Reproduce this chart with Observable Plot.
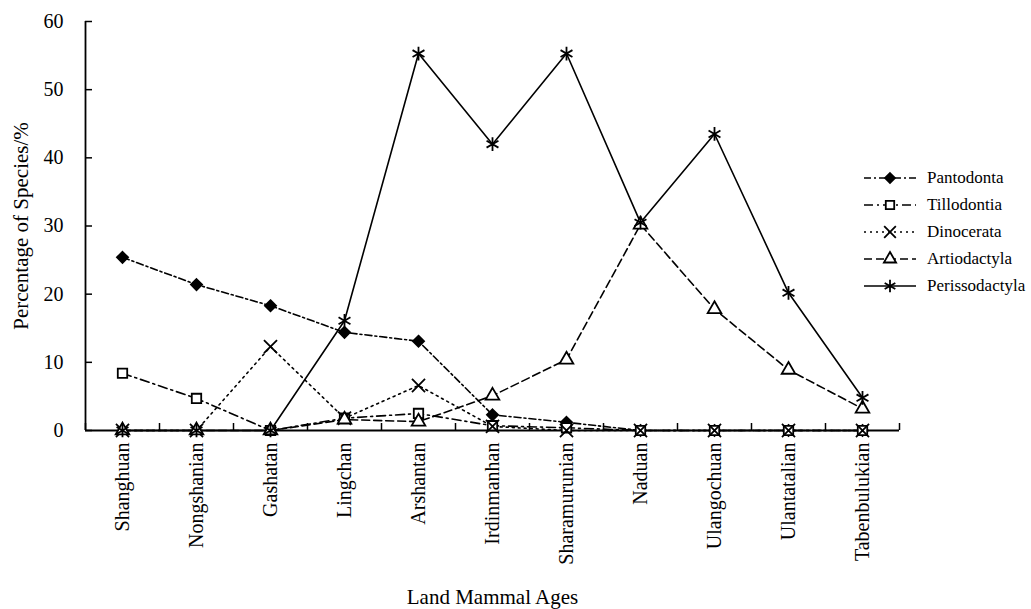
<!DOCTYPE html>
<html><head><meta charset="utf-8">
<script src="https://cdn.jsdelivr.net/npm/d3@7"></script>
<script src="https://cdn.jsdelivr.net/npm/@observablehq/plot@0.6"></script>
<style>
body{margin:0;background:#fff;}
#wrap{position:relative;width:1031px;height:609px;font-family:"Liberation Serif","Times New Roman",serif;color:#000;}
#legend{position:absolute;left:862px;top:165px;font-size:17px;}
.row{display:flex;align-items:center;height:26.8px;}
.row span{margin-left:9px;}
#chart g[aria-label="x-axis label"] text, #chart g[aria-label="y-axis label"] text{font-size:21px;}
</style></head>
<body><div id="wrap"><div id="chart"></div><div id="legend"></div></div>
<script>
const ages = ["Shanghuan","Nongshanian","Gashatan","Lingchan","Arshantan","Irdinmanhan","Sharamurunian","Naduan","Ulangochuan","Ulantatalian","Tabenbulukian"];
const seriesNames = ["Pantodonta","Tillodontia","Dinocerata","Artiodactyla","Perissodactyla"];
const pantodonta     = [25.4, 21.4, 18.3, 14.4, 13.1, 2.3, 1.2, 0, 0, 0, 0];
const tillodontia    = [8.4, 4.7, 0, 1.8, 2.5, 0.7, 0.4, 0, 0, 0, 0];
const dinocerata     = [0, 0, 12.3, 1.8, 6.6, 0.6, 0, 0, 0, 0, 0];
const artiodactyla   = [0, 0, 0, 1.6, 1.3, 5.1, 10.4, 30.2, 17.8, 8.9, 3.2];
const perissodactyla = [0, 0, 0, 16.1, 55.3, 42.0, 55.3, 30.5, 43.5, 20.2, 4.8];
const yTicks = [0, 10, 20, 30, 40, 50, 60];

const valuesBySeries = {Pantodonta: pantodonta, Tillodontia: tillodontia, Dinocerata: dinocerata, Artiodactyla: artiodactyla, Perissodactyla: perissodactyla};
const styles = {
  Pantodonta:     {dash: "7,3,2,3", symbol: "diamond2", fill: "#000", r: 5},
  Tillodontia:    {dash: "9,4,2,4", symbol: "square2", fill: "#fff", r: 6},
  Dinocerata:     {dash: "2,4", symbol: "times", fill: "none", r: 6},
  Artiodactyla:   {dash: "8,4", symbol: "triangle2", fill: "#fff", r: 6.5},
  Perissodactyla: {dash: null, symbol: "asterisk", fill: "none", r: 6.5}
};
const data = seriesNames.flatMap(s => valuesBySeries[s].map((v, i) => ({series: s, i, age: ages[i], v})));

const marks = [
  Plot.axisY(yTicks, {tickSize: 0, tickPadding: 22, label: "Percentage of Species/%", labelAnchor: "center", labelArrow: "none", labelOffset: 72}),
  Plot.axisY(yTicks, {tickSize: -7, tickFormat: () => "", label: null, strokeWidth: 1.5}),
  Plot.axisX(d3.range(ages.length), {tickSize: 0, tickPadding: 12, tickRotate: -90, tickFormat: i => ages[i], label: "Land Mammal Ages", labelAnchor: "center", labelArrow: "none", labelOffset: 173}),
  Plot.axisX(d3.range(ages.length + 1).map(k => k - 0.5), {tickSize: -7, tickFormat: () => "", label: null, strokeWidth: 1.5}),
  Plot.ruleY([0], {strokeWidth: 1.8}),
  Plot.ruleX([-0.5], {strokeWidth: 1.8})
];
for (const s of seriesNames) {
  const st = styles[s];
  const d = data.filter(e => e.series === s);
  marks.push(Plot.line(d, {x: "i", y: "v", stroke: "#000", strokeWidth: 1.6, strokeDasharray: st.dash}));
}
for (const s of seriesNames) {
  const st = styles[s];
  const d = data.filter(e => e.series === s);
  marks.push(Plot.dot(d, {x: "i", y: "v", symbol: () => st.symbol, r: st.r, fill: st.fill, stroke: "#000", strokeWidth: 1.8}));
}

const chart = Plot.plot({
  width: 1031, height: 609,
  marginLeft: 85, marginRight: 132, marginTop: 21, marginBottom: 179,
  style: {fontFamily: "'Liberation Serif', 'Times New Roman', serif", fontSize: "20px", color: "#000", background: "#fff"},
  x: {domain: [-0.5, ages.length - 0.5]},
  y: {domain: [0, 60]},
  symbol: {type: "identity"},
  marks
});
document.getElementById("chart").appendChild(chart);

// legend
const legend = document.getElementById("legend");
const symbolTypes = {diamond2: d3.symbolDiamond2, square2: d3.symbolSquare2, times: d3.symbolTimes, triangle2: d3.symbolTriangle2, asterisk: d3.symbolAsterisk};
for (const s of seriesNames) {
  const st = styles[s];
  const row = document.createElement("div");
  row.className = "row";
  const svg = d3.create("svg").attr("width", 56).attr("height", 20);
  svg.append("line").attr("x1", 2).attr("x2", 54).attr("y1", 10).attr("y2", 10)
    .attr("stroke", "#000").attr("stroke-width", 1.6).attr("stroke-dasharray", st.dash);
  svg.append("path").attr("transform", "translate(28,10)")
    .attr("d", d3.symbol(symbolTypes[st.symbol], Math.PI * st.r * st.r * 0.8)())
    .attr("fill", st.fill).attr("stroke", "#000").attr("stroke-width", 1.8);
  row.appendChild(svg.node());
  const t = document.createElement("span");
  t.textContent = s;
  row.appendChild(t);
  legend.appendChild(row);
}
</script>
</body></html>
